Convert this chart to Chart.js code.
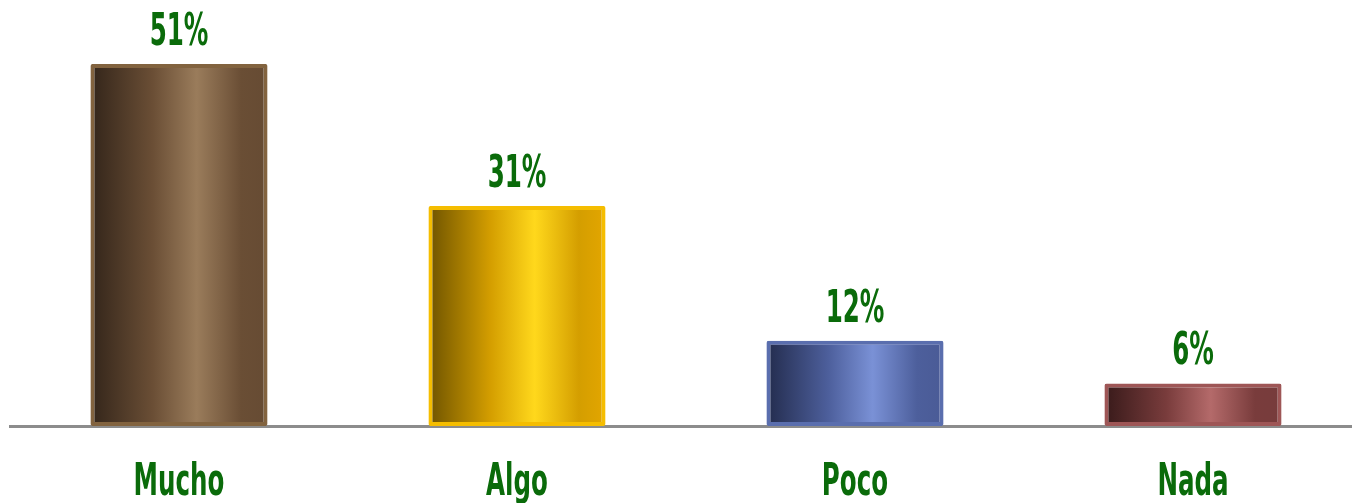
<!DOCTYPE html>
<html>
<head>
<meta charset="utf-8">
<script src="https://cdn.jsdelivr.net/npm/chart.js@4.4.1/dist/chart.umd.min.js"></script>
<style>
  html, body { margin: 0; padding: 0; background: #ffffff; overflow: hidden; }
  #wrap { width: 1364px; height: 503px; }
</style>
</head>
<body>
<div id="wrap"><canvas id="c" width="1364" height="503"></canvas></div>
<script>
const categories = ["Mucho", "Algo", "Poco", "Nada"];
const values = [51, 31, 12, 6];
const valueLabels = ["51%", "31%", "12%", "6%"];
const borderColors = ["#82633f", "#f5bd00", "#5a6eae", "#9e5656"];
// gradient stops: [left, mid, highlight, right]
const gradientStops = [
  ["#33251a", "#6a4e35", "#9a7c5b", "#664b33"],
  ["#6e5300", "#d49e00", "#ffd81c", "#e3a600"],
  ["#232c4d", "#4d5f9c", "#7a91d6", "#4a5b96"],
  ["#381a1a", "#793c3c", "#b46a6a", "#773c3c"]
];

const fontFamily = "'DejaVu Sans Condensed', 'DejaVu Sans', sans-serif";
const green = "#0a6b0a";

function barGradient(context) {
  const chart = context.chart;
  const area = chart.chartArea;
  const i = context.dataIndex;
  if (!area || !chart.scales.x) return gradientStops[i][2];
  const xs = chart.scales.x;
  const cx = xs.getPixelForValue(i);
  const catW = (area.right - area.left) / categories.length;
  const w = catW * 0.524;
  const g = chart.ctx.createLinearGradient(cx - w / 2, 0, cx + w / 2, 0);
  const s = gradientStops[i];
  g.addColorStop(0, s[0]);
  g.addColorStop(0.35, s[1]);
  g.addColorStop(0.6, s[2]);
  g.addColorStop(0.85, s[1]);
  g.addColorStop(1, s[3]);
  return g;
}

function drawNarrow(ctx, text, x, y) {
  ctx.save();
  ctx.translate(x, y);
  ctx.scale(0.62, 1);
  ctx.fillText(text, 0, 0);
  ctx.restore();
}

const labelPlugin = {
  id: 'narrowLabels',
  afterDatasetsDraw(chart) {
    const ctx = chart.ctx;
    const meta = chart.getDatasetMeta(0);
    const xs = chart.scales.x;
    ctx.save();
    ctx.font = "bold 44px " + fontFamily;
    ctx.fillStyle = green;
    ctx.textAlign = 'center';
    ctx.textBaseline = 'alphabetic';
    meta.data.forEach((bar, i) => {
      drawNarrow(ctx, valueLabels[i], bar.x, bar.y - 19);
    });
    chart.data.labels.forEach((lab, i) => {
      drawNarrow(ctx, lab, xs.getPixelForValue(i), xs.top + 69);
    });
    ctx.restore();
  }
};

new Chart(document.getElementById('c'), {
  type: 'bar',
  data: {
    labels: categories,
    datasets: [{
      data: values,
      backgroundColor: barGradient,
      borderColor: borderColors,
      borderWidth: 4,
      borderRadius: 2,
      borderSkipped: false,
      categoryPercentage: 1,
      barPercentage: 0.524
    }]
  },
  options: {
    responsive: false,
    animation: false,
    layout: { padding: { left: 10, right: 2, top: 0, bottom: 0 } },
    plugins: { legend: { display: false }, tooltip: { enabled: false } },
    scales: {
      x: {
        grid: { display: false, drawTicks: false },
        border: { display: true, color: '#8c8c8c', width: 3 },
        ticks: { display: false },
        afterFit(s) { s.height = 77; }
      },
      y: {
        display: false,
        min: 0,
        max: 60
      }
    }
  },
  plugins: [labelPlugin]
});
</script>
</body>
</html>
